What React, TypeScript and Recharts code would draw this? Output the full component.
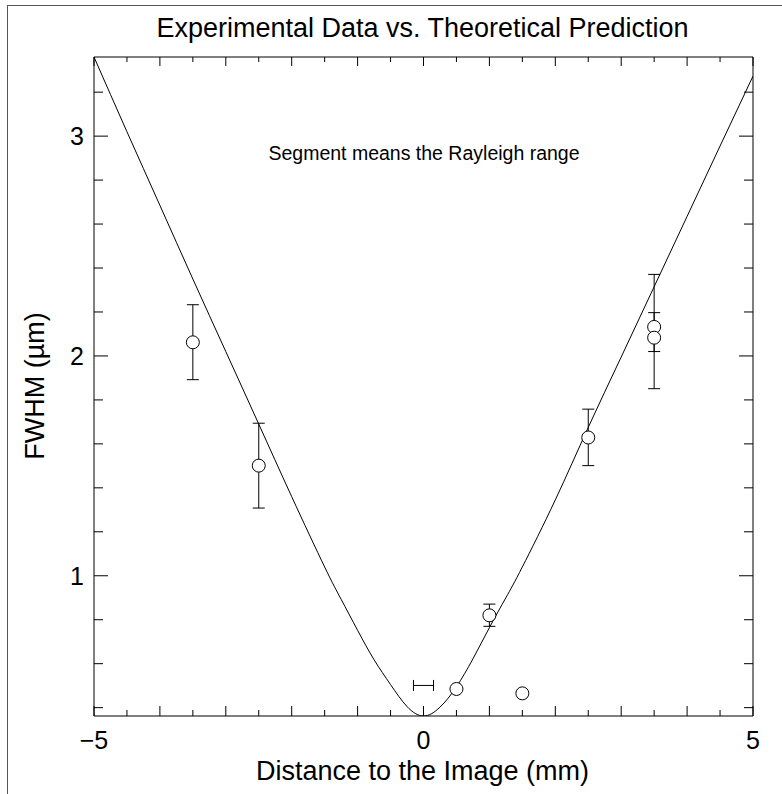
import React from 'react';
import { ComposedChart, Line, Scatter, XAxis, YAxis, ErrorBar } from 'recharts';

const W = 782;
const H = 794;
const FONT = '"Liberation Sans", Arial, Helvetica, sans-serif';

// Axis ticks
const distanceTicks = [-5, -4.5, -4, -3.5, -3, -2.5, -2, -1.5, -1, -0.5, 0, 0.5, 1, 1.5, 2, 2.5, 3, 3.5, 4, 4.5, 5];
const distanceLabels = [-5, 0, 5];
const fwhmTicks = [0.4, 0.6, 0.8, 1, 1.2, 1.4, 1.6, 1.8, 2, 2.2, 2.4, 2.6, 2.8, 3, 3.2];
const fwhmLabels = [1, 2, 3];

// Theoretical beam width along the axis
const theoryDistance = [-5, -4.5, -4, -3.5, -3, -2.5, -2, -1.5, -1.25, -1, -0.75, -0.5, -0.25, 0, 0.25, 0.5, 0.75, 1, 1.25, 1.5, 2, 2.5, 3, 3.5, 4, 4.5, 5];
const theoryFwhm = [3.36, 3.02, 2.685, 2.35, 2.02, 1.69, 1.36, 1.04, 0.893, 0.752, 0.618, 0.505, 0.405, 0.362, 0.402, 0.495, 0.622, 0.764, 0.9, 1.04, 1.345, 1.675, 1.995, 2.315, 2.635, 2.955, 3.273];

// Measurements with error bars
const measuredDistance = [-3.5, -2.5, 1, 2.5, 3.5, 3.5];
const measuredFwhm = [2.062, 1.501, 0.82, 1.629, 2.132, 2.083];
const measuredErrLow = [0.17, 0.193, 0.05, 0.128, 0.281, 0.063];
const measuredErrHigh = [0.171, 0.193, 0.051, 0.129, 0.239, 0.114];

// Measurements without error bars
const bareDistance = [0.5, 1.5];
const bareFwhm = [0.485, 0.465];

// Rayleigh range segment
const rayleighCenter = [0];
const rayleighFwhm = [0.501];
const rayleighHalfRange = [0.152];

const theoryData = theoryDistance.map((x, i) => ({ x, y: theoryFwhm[i] }));
const measuredData = measuredDistance.map((x, i) => ({
  x,
  y: measuredFwhm[i],
  err: [measuredErrLow[i], measuredErrHigh[i]],
}));
const bareData = bareDistance.map((x, i) => ({ x, y: bareFwhm[i] }));
const rayleighData = rayleighCenter.map((x, i) => ({ x, y: rayleighFwhm[i], xerr: rayleighHalfRange[i] }));

const isMajor = (v: number) => Math.abs(v - Math.round(v)) < 1e-6;
const fmt = (v: number) => (v < 0 ? '\u2212' + Math.abs(v) : String(v));

function BottomTick(props: any) {
  const { x, y, payload } = props;
  const v = payload.value;
  const len = isMajor(v) ? 10 : 6;
  return (
    <g>
      <line x1={x} y1={y} x2={x} y2={y - len} stroke="#000" strokeWidth={1} />
      {distanceLabels.includes(v) && (
        <text x={x} y={y + 33} textAnchor="middle" fontSize={25} fontFamily={FONT} fill="#000">
          {fmt(v)}
        </text>
      )}
    </g>
  );
}

function TopTick(props: any) {
  const { x, y, payload } = props;
  const len = isMajor(payload.value) ? 9 : 5;
  return <line x1={x} y1={y} x2={x} y2={y + len} stroke="#000" strokeWidth={1} />;
}

function LeftTick(props: any) {
  const { x, y, payload } = props;
  const v = payload.value;
  const len = isMajor(v) ? 14 : 9;
  return (
    <g>
      <line x1={x} y1={y} x2={x + len} y2={y} stroke="#000" strokeWidth={1} />
      {fwhmLabels.includes(v) && (
        <text x={x - 10} y={y + 9} textAnchor="end" fontSize={25} fontFamily={FONT} fill="#000">
          {fmt(v)}
        </text>
      )}
    </g>
  );
}

function RightTick(props: any) {
  const { x, y, payload } = props;
  const len = isMajor(payload.value) ? 14 : 9;
  return <line x1={x} y1={y} x2={x - len} y2={y} stroke="#000" strokeWidth={1} />;
}

const OpenCircle = (props: any) => (
  <circle cx={props.cx} cy={props.cy} r={6.5} fill="#fff" stroke="#000" strokeWidth={1} />
);
const NoMark = () => <g />;

export default function App() {
  return (
    <div style={{ position: 'absolute', left: 0, top: 0, width: W, height: H, background: '#fff', overflow: 'hidden' }}>
      <div
        style={{
          position: 'absolute',
          left: 7,
          top: 5,
          width: W,
          height: H,
          borderLeft: '1px solid #555',
          borderTop: '1px solid #555',
        }}
      />
      <div style={{ position: 'absolute', left: 0, top: 0 }}>
        <ComposedChart width={W} height={H} margin={{ top: 0, right: 0, bottom: 0, left: 0 }}>
          <XAxis
            xAxisId="bottom"
            dataKey="x"
            type="number"
            orientation="bottom"
            domain={[-5, 5]}
            ticks={distanceTicks}
            interval={0}
            allowDataOverflow
            height={78}
            tickSize={0}
            tickMargin={0}
            tickLine={false}
            tick={<BottomTick />}
            axisLine={{ stroke: '#000', strokeWidth: 1 }}
          />
          <XAxis
            xAxisId="top"
            dataKey="x"
            type="number"
            orientation="top"
            domain={[-5, 5]}
            ticks={distanceTicks}
            interval={0}
            allowDataOverflow
            height={57}
            tickSize={0}
            tickMargin={0}
            tickLine={false}
            tick={<TopTick />}
            axisLine={{ stroke: '#000', strokeWidth: 1 }}
          />
          <YAxis
            yAxisId="left"
            dataKey="y"
            type="number"
            orientation="left"
            domain={[0.362, 3.36]}
            ticks={fwhmTicks}
            interval={0}
            allowDataOverflow
            width={94}
            tickSize={0}
            tickMargin={0}
            tickLine={false}
            tick={<LeftTick />}
            axisLine={{ stroke: '#000', strokeWidth: 1 }}
          />
          <YAxis
            yAxisId="right"
            dataKey="y"
            type="number"
            orientation="right"
            domain={[0.362, 3.36]}
            ticks={fwhmTicks}
            interval={0}
            allowDataOverflow
            width={29}
            tickSize={0}
            tickMargin={0}
            tickLine={false}
            tick={<RightTick />}
            axisLine={{ stroke: '#000', strokeWidth: 1 }}
          />
          <Scatter
            data={rayleighData}
            xAxisId="bottom"
            yAxisId="left"
            dataKey="y"
            shape={<NoMark />}
            isAnimationActive={false}
          >
            <ErrorBar dataKey="xerr" direction="x" width={5.5} stroke="#000" strokeWidth={1} isAnimationActive={false} />
          </Scatter>
          <Scatter
            data={measuredData}
            xAxisId="bottom"
            yAxisId="left"
            dataKey="y"
            shape={<OpenCircle />}
            isAnimationActive={false}
          >
            <ErrorBar dataKey="err" direction="y" width={6} stroke="#000" strokeWidth={1} isAnimationActive={false} />
          </Scatter>
          <Scatter
            data={bareData}
            xAxisId="bottom"
            yAxisId="left"
            dataKey="y"
            shape={<OpenCircle />}
            isAnimationActive={false}
          />
          <Line
            data={theoryData}
            xAxisId="bottom"
            yAxisId="left"
            dataKey="y"
            type="natural"
            stroke="#000"
            strokeWidth={1}
            dot={false}
            activeDot={false}
            isAnimationActive={false}
          />
        </ComposedChart>
      </div>
      <svg
        width={W}
        height={H}
        style={{ position: 'absolute', left: 0, top: 0, pointerEvents: 'none' }}
        fontFamily={FONT}
      >
        <text x={422.5} y={36.5} textAnchor="middle" fontSize={27} fill="#000">
          Experimental Data vs. Theoretical Prediction
        </text>
        <text x={424} y={159.5} textAnchor="middle" fontSize={19.5} fill="#000">
          Segment means the Rayleigh range
        </text>
        <text x={422.5} y={780} textAnchor="middle" fontSize={27} fill="#000">
          Distance to the Image (mm)
        </text>
        <text x={43.5} y={386} textAnchor="middle" fontSize={27} fill="#000" transform="rotate(-90, 43.5, 386)">
          FWHM (µm)
        </text>
      </svg>
    </div>
  );
}
